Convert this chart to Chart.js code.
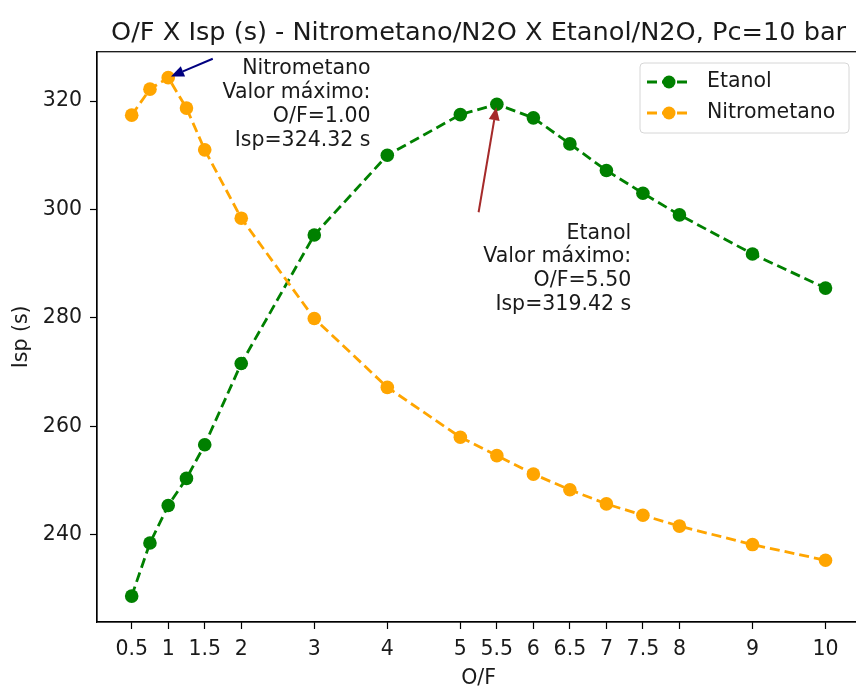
<!DOCTYPE html>
<html>
<head>
<meta charset="utf-8">
<script src="https://cdn.jsdelivr.net/npm/chart.js@4.4.1/dist/chart.umd.min.js"></script>
<style>
  html, body { margin: 0; padding: 0; background: #fff; overflow: hidden; }
  #wrap { position: relative; width: 867px; height: 686px; overflow: hidden; }
</style>
</head>
<body>
<div id="wrap"><canvas id="ispChart" width="867" height="686"></canvas></div>
<script>
// O/F ratios and Isp (s)
const ofRatio = [0.5, 0.75, 1, 1.25, 1.5, 2, 3, 4, 5, 5.5, 6, 6.5, 7, 7.5, 8, 9, 10];
const ispEtanol = [228.7, 238.5, 245.4, 250.4, 256.6, 271.6, 295.3, 310.0, 317.5, 319.42, 316.9, 312.1, 307.2, 303.0, 299.0, 291.8, 285.5];
const ispNitrometano = [317.4, 322.2, 324.32, 318.7, 311.0, 298.4, 279.9, 267.2, 258.0, 254.6, 251.2, 248.3, 245.7, 243.6, 241.6, 238.2, 235.3];
const xTicks = [0.5, 1, 1.5, 2, 3, 4, 5, 5.5, 6, 6.5, 7, 7.5, 8, 9, 10];
const yTicks = [240, 260, 280, 300, 320];
const seriesNames = ['Etanol', 'Nitrometano'];

const FONT = "'DejaVu Sans', sans-serif";
const FS = 20.5;
const GREEN = '#008000';
const ORANGE = '#ffa500';

function toPoints(ys) {
    return ofRatio.map((x, i) => ({ x: x, y: ys[i] }));
}

function maxIndex(arr) {
    let m = 0;
    for (let i = 1; i < arr.length; i++) if (arr[i] > arr[m]) m = i;
    return m;
}

// matplotlib-like 5% margins
const allY = ispEtanol.concat(ispNitrometano);
const yMinD = Math.min(...allY), yMaxD = Math.max(...allY);
const xMinD = Math.min(...ofRatio), xMaxD = Math.max(...ofRatio);
const yPad = (yMaxD - yMinD) * 0.05, xPad = (xMaxD - xMinD) * 0.05;

const iEt = maxIndex(ispEtanol);
const iNi = maxIndex(ispNitrometano);

// annotation placement (data coords): text right edge / first line, arrow tail
const notes = [
    {
        lines: ['Nitrometano', 'Valor máximo:', 'O/F=' + ofRatio[iNi].toFixed(2), 'Isp=' + ispNitrometano[iNi].toFixed(2) + ' s'],
        textAt: [3.77, 325.9], tail: [1.61, 327.8], head: [ofRatio[iNi], ispNitrometano[iNi]], color: '#000080'
    },
    {
        lines: ['Etanol', 'Valor máximo:', 'O/F=' + ofRatio[iEt].toFixed(2), 'Isp=' + ispEtanol[iEt].toFixed(2) + ' s'],
        textAt: [7.34, 295.6], tail: [5.25, 299.5], head: [ofRatio[iEt], ispEtanol[iEt]], color: '#a52a2a'
    }
];

function drawArrow(ctx, x0, y0, x1, y1, color) {
    const ang = Math.atan2(y1 - y0, x1 - x0);
    // shrink a little so the tip stops at the marker edge
    x1 -= 3 * Math.cos(ang); y1 -= 3 * Math.sin(ang);
    const hl = 13, hw = 5.5;
    const bx = x1 - hl * Math.cos(ang), by = y1 - hl * Math.sin(ang);
    ctx.save();
    ctx.strokeStyle = color; ctx.fillStyle = color; ctx.lineWidth = 2;
    ctx.beginPath(); ctx.moveTo(x0, y0); ctx.lineTo(bx, by); ctx.stroke();
    ctx.beginPath();
    ctx.moveTo(x1, y1);
    ctx.lineTo(bx + hw * Math.sin(ang), by - hw * Math.cos(ang));
    ctx.lineTo(bx - hw * Math.sin(ang), by + hw * Math.cos(ang));
    ctx.closePath(); ctx.fill();
    ctx.restore();
}

const extras = {
    id: 'extras',
    afterDraw(chart) {
        const { ctx, chartArea: a, scales: { x, y } } = chart;
        ctx.save();

        // full frame like matplotlib spines
        ctx.strokeStyle = '#000'; ctx.lineWidth = 1.2;
        ctx.strokeRect(a.left, a.top, a.right - a.left, a.bottom - a.top);

        // annotations
        ctx.font = FS + 'px ' + FONT;
        ctx.textAlign = 'right';
        ctx.textBaseline = 'middle';
        notes.forEach(n => {
            drawArrow(ctx, x.getPixelForValue(n.tail[0]), y.getPixelForValue(n.tail[1]),
                x.getPixelForValue(n.head[0]), y.getPixelForValue(n.head[1]), n.color);
            const tx = x.getPixelForValue(n.textAt[0]);
            const ty = y.getPixelForValue(n.textAt[1]);
            ctx.fillStyle = '#1a1a1a';
            n.lines.forEach((ln, k) => ctx.fillText(ln, tx, ty + k * 23.8));
        });

        // legend box
        const lx = 640, ly = 63, lw = 209, lh = 70, r = 4;
        ctx.beginPath();
        ctx.roundRect(lx, ly, lw, lh, r);
        ctx.fillStyle = 'rgba(255,255,255,0.8)';
        ctx.fill();
        ctx.strokeStyle = '#d6d6d6'; ctx.lineWidth = 1;
        ctx.stroke();

        const cols = [GREEN, ORANGE];
        ctx.textAlign = 'left';
        seriesNames.forEach((name, k) => {
            const yy = ly + 19 + k * 31;
            ctx.strokeStyle = cols[k]; ctx.lineWidth = 2.8;
            ctx.setLineDash([10, 5]);
            ctx.beginPath(); ctx.moveTo(647, yy); ctx.lineTo(691, yy); ctx.stroke();
            ctx.setLineDash([]);
            ctx.fillStyle = cols[k];
            ctx.beginPath(); ctx.arc(669, yy, 6.5, 0, Math.PI * 2); ctx.fill();
            ctx.fillStyle = '#1a1a1a';
            ctx.fillText(name, 707, yy);
        });
        ctx.restore();
    }
};

const ctx = document.getElementById('ispChart').getContext('2d');
new Chart(ctx, {
    type: 'line',
    data: {
        datasets: [
            {
                label: seriesNames[0], data: toPoints(ispEtanol), order: 1,
                borderColor: GREEN, backgroundColor: GREEN, borderWidth: 2.8, borderDash: [10, 5],
                pointRadius: 6.8, pointBorderWidth: 0, pointBackgroundColor: GREEN, fill: false, tension: 0
            },
            {
                label: seriesNames[1], data: toPoints(ispNitrometano), order: 0,
                borderColor: ORANGE, backgroundColor: ORANGE, borderWidth: 2.8, borderDash: [10, 5],
                pointRadius: 6.8, pointBorderWidth: 0, pointBackgroundColor: ORANGE, fill: false, tension: 0
            }
        ]
    },
    options: {
        responsive: false,
        animation: false,
        events: [],
        layout: { padding: 0 },
        plugins: {
            legend: { display: false },
            tooltip: { enabled: false },
            title: {
                display: true,
                fullSize: false,
                text: 'O/F X Isp (s) - Nitrometano/N2O X Etanol/N2O, Pc=10 bar',
                color: '#1a1a1a',
                font: { family: FONT, size: 25.6, weight: 'normal' },
                padding: { top: 18, bottom: 3 }
            }
        },
        scales: {
            x: {
                type: 'linear',
                min: xMinD - xPad, max: xMaxD + xPad,
                afterBuildTicks: s => { s.ticks = xTicks.map(v => ({ value: v })); },
                afterFit: s => { s.height = 64; },
                ticks: {
                    autoSkip: false, maxRotation: 0, padding: 8,
                    color: '#1a1a1a', font: { family: FONT, size: FS },
                    callback: v => String(v)
                },
                grid: { display: true, drawOnChartArea: false, drawTicks: true, tickLength: 7, color: '#000', tickWidth: 1.2 },
                border: { display: true, color: '#000', width: 1.2 },
                title: { display: true, text: 'O/F', color: '#1a1a1a', font: { family: FONT, size: FS }, padding: { top: 0, bottom: -5 } }
            },
            y: {
                type: 'linear',
                min: yMinD - yPad, max: yMaxD + yPad,
                afterBuildTicks: s => { s.ticks = yTicks.map(v => ({ value: v })); },
                afterFit: s => { s.width = 97; },
                ticks: { padding: 8, color: '#1a1a1a', font: { family: FONT, size: FS } },
                grid: { display: true, drawOnChartArea: false, drawTicks: true, tickLength: 7, color: '#000', tickWidth: 1.2 },
                border: { display: true, color: '#000', width: 1.2 },
                title: { display: true, text: 'Isp (s)', color: '#1a1a1a', font: { family: FONT, size: FS }, padding: { top: 9, bottom: 0 } }
            }
        }
    },
    plugins: [extras]
});
</script>
</body>
</html>
